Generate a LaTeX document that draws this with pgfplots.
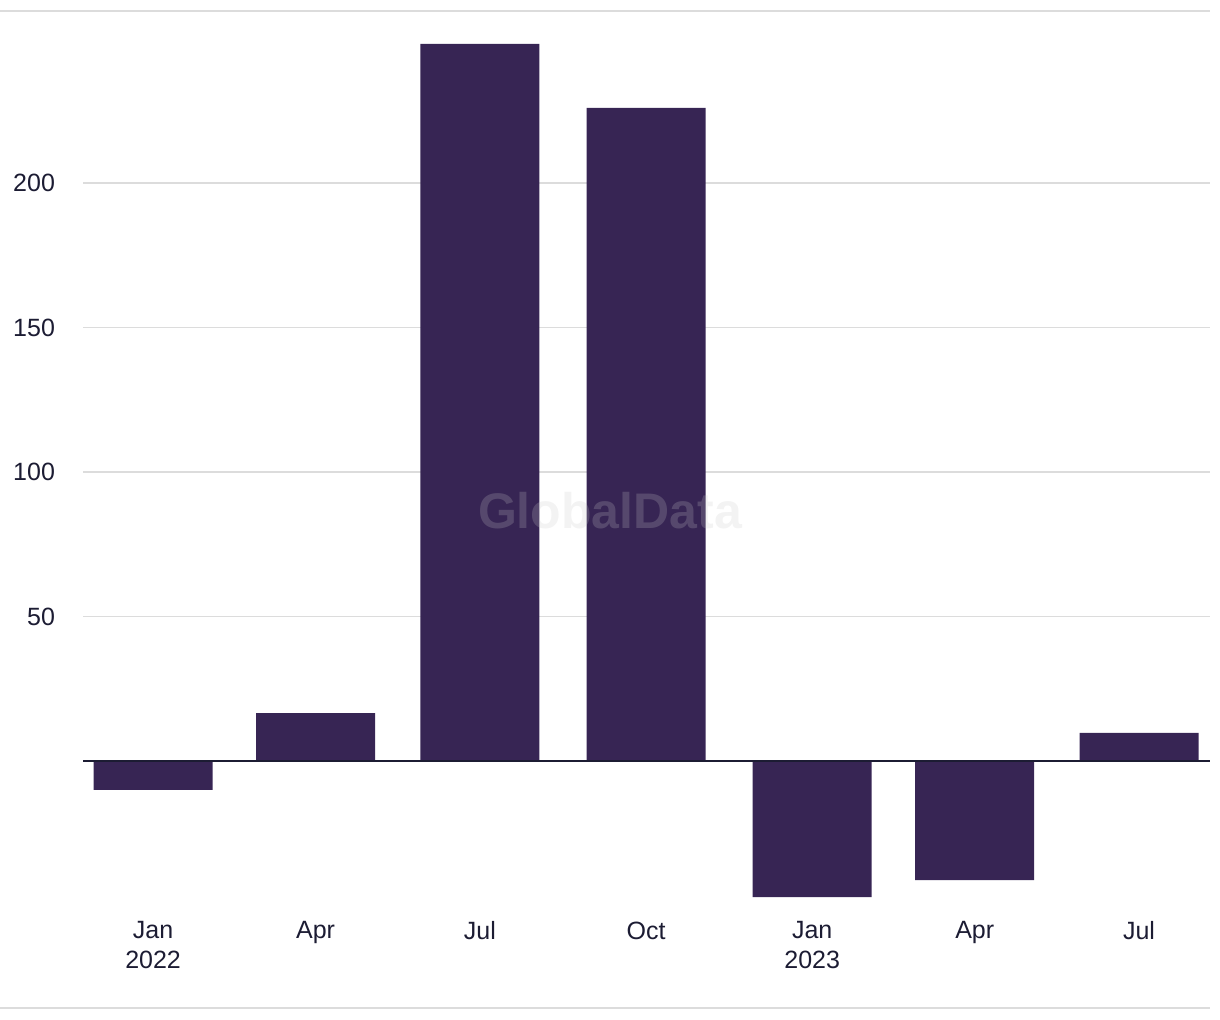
\documentclass[border=0pt]{standalone}
\usepackage{pgfplots}
\pgfplotsset{compat=1.18}
\usepackage{fontspec}
\setmainfont{Liberation Sans}
\definecolor{barc}{HTML}{372554}
\definecolor{txt}{HTML}{1C1C33}
\definecolor{gridc}{HTML}{DCDCDC}
\definecolor{wm}{RGB}{200,200,200}
\begin{document}
\begin{tikzpicture}[x=1pt,y=1pt]
\path[use as bounding box] (0,0) rectangle (610,510);
\draw[gridc, line width=0.6pt] (0,504.5) -- (605,504.5);
\draw[gridc, line width=0.6pt] (0,6) -- (605,6);
\begin{axis}[
  at={(41.5pt,57.25pt)}, anchor=south west,
  scale only axis, width=563.5pt, height=447.25pt,
  xmin=-38.8, xmax=585.3, ymin=-50, ymax=259.5,
  axis line style={draw=none},
  /pgf/number format/assume math mode=true,
  ytick={50,100,150,200},
  xtick={0,90,181,273,365,455,546},
  xticklabels={{Jan\\2022},Apr,Jul,Oct,{Jan\\2023},Apr,Jul},
  xticklabel style={align=center, font=\fontsize{12.5pt}{15pt}\selectfont, text=txt, anchor=north, yshift=-4.5pt},
  yticklabel style={font=\fontsize{12.5pt}{15pt}\selectfont, text=txt, anchor=east, xshift=-10.5pt},
  ymajorgrids, major grid style={gridc, line width=0.6pt},
  major tick length=0pt,
  tick style={draw=none},
  ybar, bar width=59.5pt, bar shift=0pt,
  clip=false,
]
\addplot[fill=barc, draw=none] coordinates {(0,-10.0) (90,16.6) (181,248.1) (273,226.0) (365,-47.1) (455,-41.2) (546,9.7)};
\draw[txt, line width=0.6pt] (axis cs:-38.8,0) -- (axis cs:585.3,0);
\end{axis}
\node[font=\fontsize{25pt}{29pt}\selectfont\bfseries, text=wm, opacity=0.22] at (305,254.5) {GlobalData};
\end{tikzpicture}
\end{document}
